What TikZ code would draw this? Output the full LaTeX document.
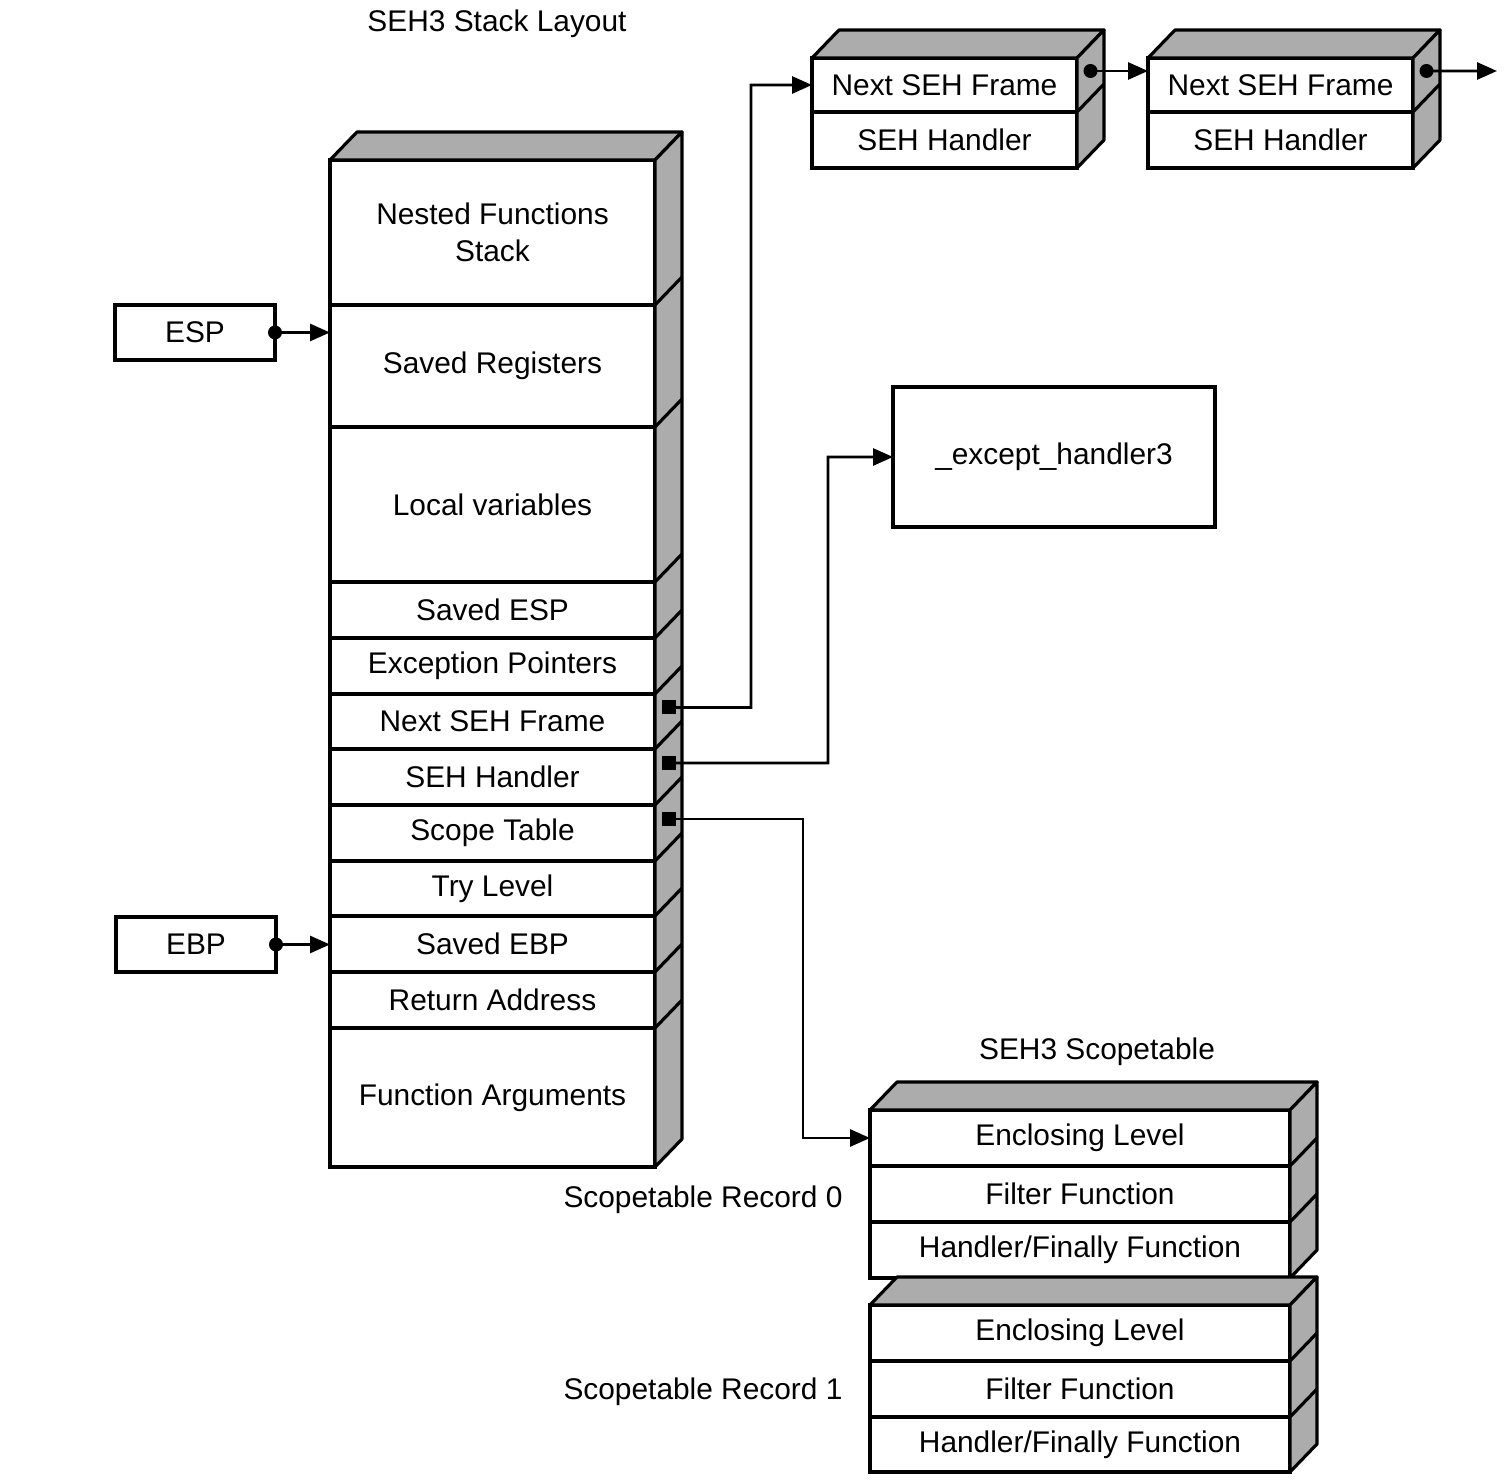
\documentclass[tikz,border=0pt]{standalone}
\usepackage{fontspec}
\setmainfont{Liberation Sans}
\usetikzlibrary{positioning,arrows.meta,calc}

% shaded top and right faces of a stack of cells
\newcommand{\boxfaces}[2]{%
  \draw[face] (#1.north west) -- ++(0.27,0.28) -- ([shift={(0.27,0.28)}]#1.north east) -- (#1.north east) -- cycle;
  \draw[face] (#1.north east) -- ++(0.27,0.28) -- ([shift={(0.27,0.28)}]#2.south east) -- (#2.south east) -- cycle;
}

\begin{document}
\begin{tikzpicture}[
  font=\fontsize{8.5}{10.5}\selectfont,
  node distance=0pt,
  cell/.style={draw, line width=0.9pt, fill=white, inner sep=0pt, outer sep=0pt, anchor=north west, align=center},
  stackcell/.style={cell, minimum width=3.25cm, minimum height=0.56cm},
  framecell/.style={cell, minimum width=2.65cm},
  scopecell/.style={cell, minimum width=4.20cm, minimum height=0.56cm},
  regbox/.style={cell, minimum width=1.60cm, minimum height=0.55cm},
  face/.style={draw, line width=0.9pt, fill=gray!65, line join=round},
  rdot/.style={circle, fill=black, inner sep=0pt, minimum size=0.14cm},
  sdot/.style={rectangle, fill=black, inner sep=0pt, minimum size=0.14cm},
  link/.style={line width=0.8pt, -{Triangle[length=0.2cm,width=0.17cm]}}
]
  \useasboundingbox (0,0) rectangle (15.10,-14.82);

  \node (title) at (4.97,-0.24) {SEH3 Stack Layout};

  % the stack
  \node[stackcell, minimum height=1.45cm] (nested) at (3.30,-1.60) {Nested Functions\\Stack};
  \node[stackcell, minimum height=1.22cm, below=of nested] (savedreg) {Saved Registers};
  \node[stackcell, minimum height=1.55cm, below=of savedreg] (locals) {Local variables};
  \node[stackcell, below=of locals] (savedesp) {Saved ESP};
  \node[stackcell, below=of savedesp] (excptrs) {Exception Pointers};
  \node[stackcell, minimum height=0.55cm, below=of excptrs] (nextseh) {Next SEH Frame};
  \node[stackcell, below=of nextseh] (sehhandler) {SEH Handler};
  \node[stackcell, below=of sehhandler] (scopetab) {Scope Table};
  \node[stackcell, minimum height=0.55cm, below=of scopetab] (trylevel) {Try Level};
  \node[stackcell, below=of trylevel] (savedebp) {Saved EBP};
  \node[stackcell, below=of savedebp] (retaddr) {Return Address};
  \node[stackcell, minimum height=1.39cm, below=of retaddr] (funcargs) {Function Arguments};
  \boxfaces{nested}{funcargs}
  \foreach \r in {nested,savedreg,locals,savedesp,excptrs,nextseh,sehhandler,scopetab,trylevel,savedebp,retaddr}
    \draw[line width=0.9pt] (\r.south east) -- ++(0.27,0.28);

  % registers
  \node[regbox] (esp) at (1.15,-3.05) {ESP};
  \node[regbox] (ebp) at (1.16,-9.17) {EBP};
  \node[rdot] (espdot) at (esp.east) {};
  \node[rdot] (ebpdot) at (ebp.east) {};

  % SEH frame chain
  \node[framecell, minimum height=0.54cm] (f1next) at (8.12,-0.58) {Next SEH Frame};
  \node[framecell, minimum height=0.56cm, below=of f1next] (f1hand) {SEH Handler};
  \boxfaces{f1next}{f1hand}
  \draw[line width=0.9pt] (f1next.south east) -- ++(0.27,0.28);
  \node[framecell, minimum height=0.54cm] (f2next) at (11.48,-0.58) {Next SEH Frame};
  \node[framecell, minimum height=0.56cm, below=of f2next] (f2hand) {SEH Handler};
  \boxfaces{f2next}{f2hand}
  \draw[line width=0.9pt] (f2next.south east) -- ++(0.27,0.28);

  \node[cell, minimum width=3.22cm, minimum height=1.40cm] (handler3) at (8.93,-3.87) {\_except\_handler3};

  % scopetable
  \node (scopetitle) at (10.97,-10.52) {SEH3 Scopetable};
  \node[scopecell] (enc0) at (8.70,-11.10) {Enclosing Level};
  \node[scopecell, below=of enc0] (filt0) {Filter Function};
  \node[scopecell, below=of filt0] (hand0) {Handler/Finally Function};
  \boxfaces{enc0}{hand0}
  \node[scopecell] (enc1) at (8.70,-13.05) {Enclosing Level};
  \node[scopecell, below=of enc1] (filt1) {Filter Function};
  \node[scopecell, minimum height=0.55cm, below=of filt1] (hand1) {Handler/Finally Function};
  \boxfaces{enc1}{hand1}
  \foreach \r in {enc0,filt0,enc1,filt1}
    \draw[line width=0.9pt] (\r.south east) -- ++(0.27,0.28);
  \node (rec0) at (7.03,-12.00) {Scopetable Record 0};
  \node (rec1) at (7.03,-13.92) {Scopetable Record 1};

  % pointer dots
  \node[sdot] (nsdot) at ($(nextseh.east)+(0.135,0.14)$) {};
  \node[sdot] (shdot) at ($(sehhandler.east)+(0.135,0.14)$) {};
  \node[sdot] (stdot) at ($(scopetab.east)+(0.135,0.14)$) {};
  \node[rdot] (f1dot) at ($(f1next.east)+(0.135,0.14)$) {};
  \node[rdot] (f2dot) at ($(f2next.east)+(0.135,0.14)$) {};

  % connectors
  \coordinate (bendA) at (7.51,-0.85);
  \coordinate (bendB) at (8.28,-4.57);
  \coordinate (bendC) at (8.03,-11.38);
  \coordinate (chainend) at (14.97,-0.71);
  \draw[link] (espdot.center) -- (espdot.center -| savedreg.west);
  \draw[link] (ebpdot.center) -- (ebpdot.center -| savedebp.west);
  \draw[link] (nsdot.center) -| (bendA) -- (f1next.west);
  \draw[link] (shdot.center) -| (bendB) -- (handler3.west);
  \draw[link] (stdot.center) -| (bendC) -- (enc0.west);
  \draw[link] (f1dot.center) -- (f1dot.center -| f2next.west);
  \draw[link] (f2dot.center) -- (chainend);
\end{tikzpicture}
\end{document}
